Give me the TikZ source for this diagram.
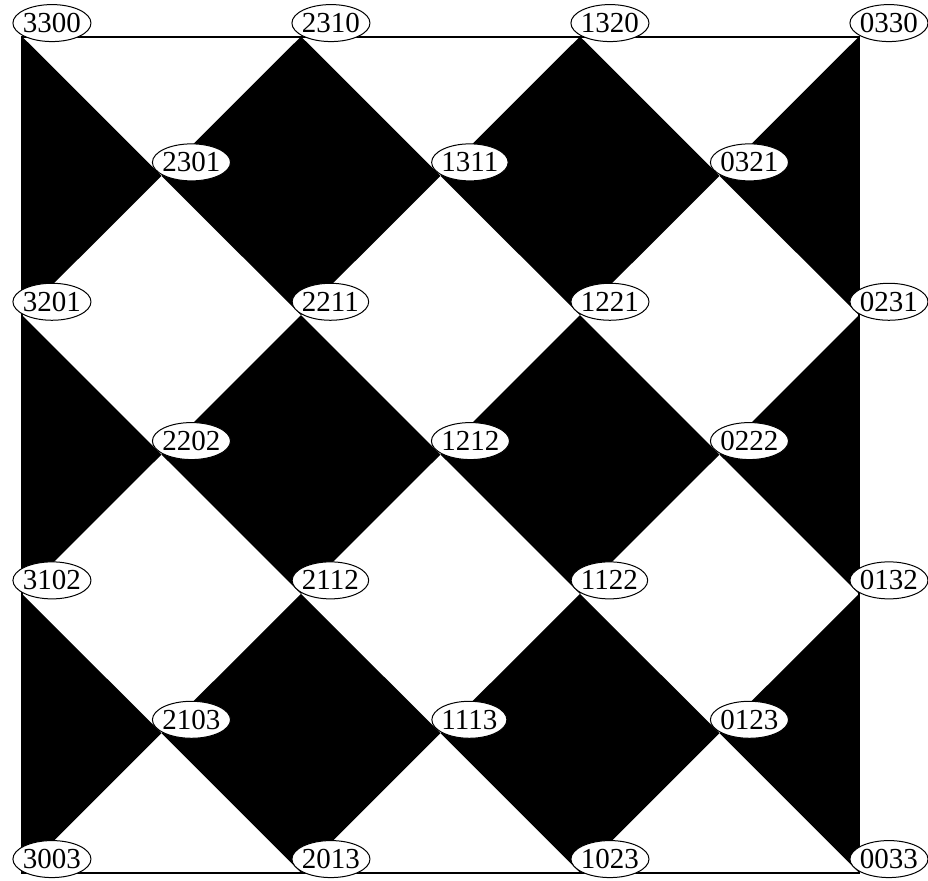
\documentclass[tikz,border=0pt]{standalone}
\usepackage{fontspec}
\setmainfont{Liberation Serif}
\usepackage{tikz}
\usetikzlibrary{shapes.geometric}

\begin{document}
\begin{tikzpicture}[
  x=0.5pt, y=-0.5pt,
  vlabel/.style={draw, ellipse, fill=white, line width=0.5pt,
                 inner xsep=-0.7pt, inner ysep=0pt, minimum height=18.5pt,
                 anchor=south west, xshift=1pt,
                 font=\fontsize{14.5}{16}\selectfont},
  tile/.style={fill=black},
  edge/.style={line width=1pt}
]
\useasboundingbox (0,0) rectangle (928,880);

% Grid points
\coordinate (p3300) at (22,36.5);
\coordinate (p2310) at (301,36.5);
\coordinate (p1320) at (580,36.5);
\coordinate (p0330) at (859,36.5);
\coordinate (p2301) at (161.5,175.8);
\coordinate (p1311) at (440.5,175.8);
\coordinate (p0321) at (719.5,175.8);
\coordinate (p3201) at (22,315.2);
\coordinate (p2211) at (301,315.2);
\coordinate (p1221) at (580,315.2);
\coordinate (p0231) at (859,315.2);
\coordinate (p2202) at (161.5,454.5);
\coordinate (p1212) at (440.5,454.5);
\coordinate (p0222) at (719.5,454.5);
\coordinate (p3102) at (22,593.8);
\coordinate (p2112) at (301,593.8);
\coordinate (p1122) at (580,593.8);
\coordinate (p0132) at (859,593.8);
\coordinate (p2103) at (161.5,733.2);
\coordinate (p1113) at (440.5,733.2);
\coordinate (p0123) at (719.5,733.2);
\coordinate (p3003) at (22,872.5);
\coordinate (p2013) at (301,872.5);
\coordinate (p1023) at (580,872.5);
\coordinate (p0033) at (859,872.5);

% Black tiles, top band
\fill[tile] (p3300) -- (p2301) -- (p3201) -- cycle;
\fill[tile] (p2310) -- (p1311) -- (p2211) -- (p2301) -- cycle;
\fill[tile] (p1320) -- (p0321) -- (p1221) -- (p1311) -- cycle;
\fill[tile] (p0330) -- (p0231) -- (p0321) -- cycle;

% Black tiles, middle band
\fill[tile] (p3201) -- (p2202) -- (p3102) -- cycle;
\fill[tile] (p2211) -- (p1212) -- (p2112) -- (p2202) -- cycle;
\fill[tile] (p1221) -- (p0222) -- (p1122) -- (p1212) -- cycle;
\fill[tile] (p0231) -- (p0132) -- (p0222) -- cycle;

% Black tiles, bottom band
\fill[tile] (p3102) -- (p2103) -- (p3003) -- cycle;
\fill[tile] (p2112) -- (p1113) -- (p2013) -- (p2103) -- cycle;
\fill[tile] (p1122) -- (p0123) -- (p1023) -- (p1113) -- cycle;
\fill[tile] (p0132) -- (p0033) -- (p0123) -- cycle;

% Outline
\draw[edge] (p3300) -- (p0330) -- (p0033) -- (p3003) -- cycle;

% Labels
\node[vlabel] (n3300) at (p3300) {3300};
\node[vlabel] (n2310) at (p2310) {2310};
\node[vlabel] (n1320) at (p1320) {1320};
\node[vlabel] (n0330) at (p0330) {0330};
\node[vlabel] (n2301) at (p2301) {2301};
\node[vlabel] (n1311) at (p1311) {1311};
\node[vlabel] (n0321) at (p0321) {0321};
\node[vlabel] (n3201) at (p3201) {3201};
\node[vlabel] (n2211) at (p2211) {2211};
\node[vlabel] (n1221) at (p1221) {1221};
\node[vlabel] (n0231) at (p0231) {0231};
\node[vlabel] (n2202) at (p2202) {2202};
\node[vlabel] (n1212) at (p1212) {1212};
\node[vlabel] (n0222) at (p0222) {0222};
\node[vlabel] (n3102) at (p3102) {3102};
\node[vlabel] (n2112) at (p2112) {2112};
\node[vlabel] (n1122) at (p1122) {1122};
\node[vlabel] (n0132) at (p0132) {0132};
\node[vlabel] (n2103) at (p2103) {2103};
\node[vlabel] (n1113) at (p1113) {1113};
\node[vlabel] (n0123) at (p0123) {0123};
\node[vlabel] (n3003) at (p3003) {3003};
\node[vlabel] (n2013) at (p2013) {2013};
\node[vlabel] (n1023) at (p1023) {1023};
\node[vlabel] (n0033) at (p0033) {0033};

\end{tikzpicture}
\end{document}
